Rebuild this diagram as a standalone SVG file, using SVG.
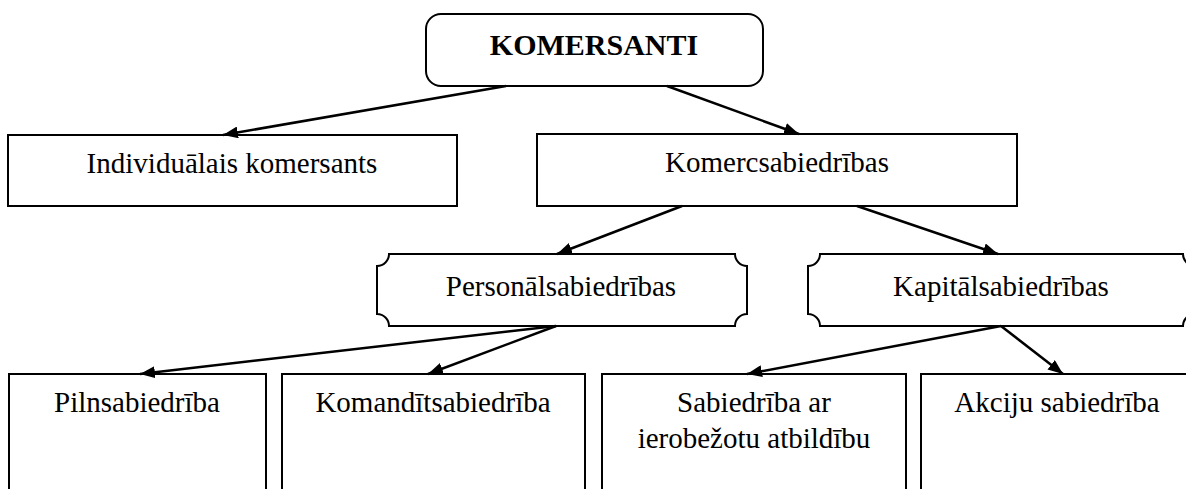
<svg xmlns="http://www.w3.org/2000/svg" width="1186" height="489" viewBox="0 0 1186 489">
<style>
.box{fill:#fff;stroke:#000;stroke-width:2}
.t{font-family:"Liberation Serif","Times New Roman",serif;font-size:29px;fill:#000;text-anchor:middle}
.b{font-weight:bold;font-size:30px}
.c{stroke:#000;stroke-width:2.5;fill:none;marker-end:url(#ah)}
</style>
<defs>
<marker id="ah" markerUnits="userSpaceOnUse" markerWidth="16" markerHeight="12" refX="15" refY="6" orient="auto">
<path d="M0,0 L15,6 L0,12 Z" fill="#000"/>
</marker>
</defs>
<rect width="1186" height="489" fill="#fff"/>
<g id="n-komersanti">
<rect class="box" x="426" y="14" width="337" height="72" rx="15" ry="15"/>
<text class="t b" x="594" y="55">KOMERSANTI</text>
</g>
<g id="n-individualais">
<rect class="box" x="8" y="135" width="449" height="71"/>
<text class="t" x="232" y="173">Individuālais komersants</text>
</g>
<g id="n-komercsabiedribas">
<rect class="box" x="537" y="134" width="480" height="72"/>
<text class="t" x="777" y="172">Komercsabiedrības</text>
</g>
<g id="n-personalsabiedribas">
<path class="box" d="M389,254 H735 A12,12 0 0 0 747,266 V314 A12,12 0 0 0 735,326 H389 A12,12 0 0 0 377,314 V266 A12,12 0 0 0 389,254 Z"/>
<text class="t" x="561" y="296">Personālsabiedrības</text>
</g>
<g id="n-kapitalsabiedribas">
<path class="box" d="M820,254 H1183 A12,12 0 0 0 1195,266 V314 A12,12 0 0 0 1183,326 H820 A12,12 0 0 0 808,314 V266 A12,12 0 0 0 820,254 Z"/>
<text class="t" x="1001" y="296">Kapitālsabiedrības</text>
</g>
<g id="n-pilnsabiedriba">
<rect class="box" x="9" y="374" width="257" height="130"/>
<text class="t" x="137" y="412">Pilnsabiedrība</text>
</g>
<g id="n-komanditsabiedriba">
<rect class="box" x="282" y="374" width="303" height="130"/>
<text class="t" x="433" y="412">Komandītsabiedrība</text>
</g>
<g id="n-sia">
<rect class="box" x="602" y="374" width="304" height="130"/>
<text class="t" x="754" y="412">Sabiedrība ar</text>
<text class="t" x="754" y="448">ierobežotu atbildību</text>
</g>
<g id="n-akciju">
<rect class="box" x="921" y="374" width="274" height="130"/>
<text class="t" x="1057" y="412">Akciju sabiedrība</text>
</g>
<g id="connectors">
<line class="c" x1="506" y1="86" x2="223" y2="135"/>
<line class="c" x1="667" y1="86" x2="799" y2="134"/>
<line class="c" x1="682" y1="206" x2="557" y2="254"/>
<line class="c" x1="857" y1="206" x2="998" y2="254"/>
<line class="c" x1="556" y1="326" x2="140" y2="374"/>
<line class="c" x1="556" y1="326" x2="428" y2="374"/>
<line class="c" x1="1001" y1="326" x2="747" y2="374"/>
<line class="c" x1="1001" y1="326" x2="1063" y2="374"/>
</g>
</svg>
